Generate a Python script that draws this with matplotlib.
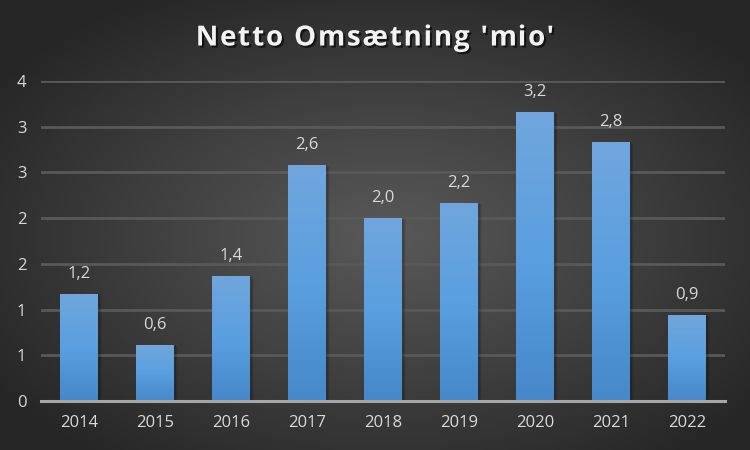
import numpy as np
import matplotlib.pyplot as plt
import matplotlib.patheffects as pe
from matplotlib.colors import LinearSegmentedColormap

years = ["2014", "2015", "2016", "2017", "2018", "2019", "2020", "2021", "2022"]
values = [1.17, 0.61, 1.37, 2.58, 2.00, 2.17, 3.16, 2.83, 0.94]
y_ticks = [0, 0.5, 1, 1.5, 2, 2.5, 3, 3.5]
y_tick_labels = ["0", "1", "1", "2", "2", "3", "3", "4"]
title_text = "Netto Omsætning 'mio'"

plt.rcParams['font.family'] = ['Open Sans', 'DejaVu Sans']

fig = plt.figure(figsize=(7.5, 4.5), dpi=100)

# radial gradient background
bg = fig.add_axes([0, 0, 1, 1])
bg.set_axis_off()
xx, yy = np.meshgrid(np.linspace(-1, 1, 750), np.linspace(-1, 1, 450))
r = np.sqrt((xx - 0.03) ** 2 + (yy - 0.05) ** 2)
r = np.clip(r / 1.25, 0, 1)
bg_cmap = LinearSegmentedColormap.from_list("bg", ["#595959", "#404040", "#262626"])
bg.imshow(r, cmap=bg_cmap, aspect="auto", extent=[0, 1, 0, 1], vmin=0, vmax=1)
bg.set_xlim(0, 1)
bg.set_ylim(0, 1)

ax = fig.add_axes([41 / 750, 1 - 401 / 450, 684 / 750, 320 / 450])
ax.patch.set_alpha(0)
x = np.arange(len(years))
bar_cmap = LinearSegmentedColormap.from_list("bar", ["#4688c9", "#5a9fe0", "#70a6dc"])
grad = np.linspace(0, 1, 256).reshape(-1, 1)

width = 0.5
for xi, h in zip(x, values):
    # soft shadow
    for k, a in enumerate([0.10, 0.08, 0.06]):
        off = 0.02 + 0.015 * k
        ax.add_patch(plt.Rectangle((xi - width / 2 + off, 0), width, h - 0.01 * k,
                                   color="black", alpha=a, lw=0, zorder=2))
    bar = ax.bar(xi, h, width=width, color="#5a9bd8", lw=0, zorder=3)[0]
    im = ax.imshow(grad, cmap=bar_cmap, aspect="auto", origin="lower",
                   extent=[xi - width / 2, xi + width / 2, 0, h], zorder=4)
    im.set_clip_path(bar)
    lab = f"{h:.1f}".replace(".", ",")
    ax.text(xi, h + 0.13, lab, ha="center", va="bottom", fontsize=12, color="#d9d9d9", zorder=5)

ax.set_xlim(-0.5, len(years) - 0.5)
ax.set_ylim(0, 3.5)
ax.set_yticks(y_ticks)
ax.set_yticklabels(y_tick_labels)
ax.set_xticks(x)
ax.set_xticklabels(years)
ax.tick_params(axis="both", length=0, colors="#d9d9d9", labelsize=12)
ax.tick_params(axis="y", pad=14)
ax.tick_params(axis="x", pad=10)
for lbl in ax.get_yticklabels():
    lbl.set_horizontalalignment("center")
ax.yaxis.grid(True, color="#595959", lw=2, zorder=1)
ax.set_axisbelow(True)
for s in ["top", "right", "left"]:
    ax.spines[s].set_visible(False)
ax.spines["bottom"].set_color("#a6a6a6")
ax.spines["bottom"].set_linewidth(2.2)
ax.spines["bottom"].set_zorder(6)

# title with letter spacing, drawn one character at a time
renderer = fig.canvas.get_renderer()
tkw = dict(fontsize=20, fontweight="bold", color="#f2f2f2", va="center", ha="left")
spacing = 1.8  # px
def text_w(s):
    t = fig.text(0, 0, s + "x", **tkw)
    w = t.get_window_extent(renderer).width
    t.remove()
    return w
wx = text_w("")
offsets = [text_w(title_text[:i]) - wx + i * spacing for i in range(len(title_text))]
total = text_w(title_text) - wx + (len(title_text) - 1) * spacing
x0 = 375 - total / 2
for ch, off in zip(title_text, offsets):
    if ch == " ":
        continue
    t = fig.text((x0 + off) / 750, 1 - 38 / 450, ch, **tkw)
    t.set_path_effects([pe.withSimplePatchShadow(offset=(1.5, -1.5), shadow_rgbFace="black", alpha=0.6)])

fig.savefig("out.png", dpi=100, facecolor="#2a2a2a")
